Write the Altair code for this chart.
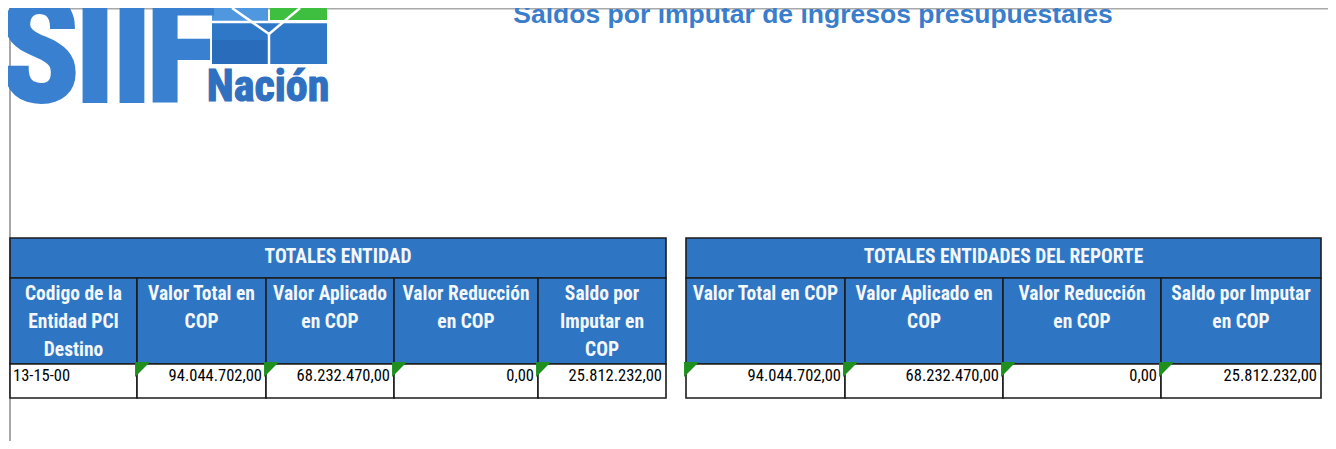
import altair as alt
import pandas as pd

# ---------------- data ----------------
TITLE = "Saldos por imputar de ingresos presupuestales"
T1_TITLE = "TOTALES ENTIDAD"
T1_HEADERS = ["Codigo de la|Entidad PCI|Destino", "Valor Total en|COP", "Valor Aplicado|en COP",
              "Valor Reducción|en COP", "Saldo por|Imputar en|COP"]
T1_CODE = "13-15-00"
T1_VALUES = [94044702.00, 68232470.00, 0.00, 25812232.00]
T2_TITLE = "TOTALES ENTIDADES DEL REPORTE"
T2_HEADERS = ["Valor Total en COP", "Valor Aplicado en|COP", "Valor Reducción|en COP", "Saldo por Imputar|en COP"]
T2_VALUES = [94044702.00, 68232470.00, 0.00, 25812232.00]
LOGO_WORD = "SIIF"
LOGO_SUB = "Nación"

# ---------------- layout (page pixel coordinates) ----------------
T1_EDGES = [10, 137, 266, 394, 538, 666]
T2_EDGES = [686, 845, 1003, 1161, 1321]
ROWS = [238, 278, 364, 398]
LOGO_LETTER_X = [40, 95, 132, 181]
BLUE = "#2E75C4"
LINE = "#1c1c1c"
NARROW = "Liberation Sans Narrow, Arial Narrow, Roboto Condensed, Liberation Sans, sans-serif"
ARIAL = "Liberation Sans, Arial, sans-serif"


def fmt(v):
    s = f"{v:,.2f}"
    return s.replace(",", "X").replace(".", ",").replace("X", ".")


xs = alt.Scale(domain=[8, 1328], nice=False, zero=False)
ys = alt.Scale(domain=[8, 441], nice=False, zero=False, reverse=True)
X = lambda f="x": alt.X(f"{f}:Q", scale=xs, axis=None)
Y = lambda f="y": alt.Y(f"{f}:Q", scale=ys, axis=None)

cells, htext, titles, nums, lefts, tris = [], [], [], [], [], []


def build(edges, title, headers, values, code=None):
    cells.append(dict(x=edges[0], x2=edges[-1], y=ROWS[0], y2=ROWS[1], fill=BLUE))
    titles.append(dict(x=(edges[0] + edges[-1]) / 2, y=(ROWS[0] + ROWS[1]) / 2 - 1, text=title))
    for i, h in enumerate(headers):
        a, b = edges[i], edges[i + 1]
        cells.append(dict(x=a, x2=b, y=ROWS[1], y2=ROWS[2], fill=BLUE))
        cells.append(dict(x=a, x2=b, y=ROWS[2], y2=ROWS[3], fill="#ffffff"))
        for j, line in enumerate(h.split("|")):
            htext.append(dict(x=(a + b) / 2, y=ROWS[1] + 16 + 28 * j, text=line))
    start = 0
    if code is not None:
        lefts.append(dict(x=edges[0] + 3, y=ROWS[2] + 12, text=code))
        start = 1
    for k, v in enumerate(values):
        a, b = edges[start + k], edges[start + k + 1]
        nums.append(dict(x=b - 4, y=ROWS[2] + 12, text=fmt(v)))
        tris.append(dict(x=a + 5.5, y=ROWS[2] + 5.5))


build(T1_EDGES, T1_TITLE, T1_HEADERS, T1_VALUES, T1_CODE)
build(T2_EDGES, T2_TITLE, T2_HEADERS, T2_VALUES)

rect = alt.Chart(pd.DataFrame(cells)).mark_rect(stroke=LINE, strokeWidth=1.6).encode(
    x=X(), x2="x2:Q", y=Y(), y2="y2:Q", fill=alt.Fill("fill:N", scale=None))

title_t = alt.Chart(pd.DataFrame(titles)).mark_text(
    font=NARROW, fontSize=19.5, fontWeight="bold", color="#f4f7fb", baseline="middle").encode(
    x=X(), y=Y(), text="text:N")
head_t = alt.Chart(pd.DataFrame(htext)).mark_text(
    font=NARROW, fontSize=19.5, fontWeight="bold", color="#f4f7fb", baseline="middle").encode(
    x=X(), y=Y(), text="text:N")
num_t = alt.Chart(pd.DataFrame(nums)).mark_text(
    font=NARROW, fontSize=16.5, color="black", baseline="middle", align="right").encode(
    x=X(), y=Y(), text="text:N")
left_t = alt.Chart(pd.DataFrame(lefts)).mark_text(
    font=NARROW, fontSize=16.5, color="black", baseline="middle", align="left").encode(
    x=X(), y=Y(), text="text:N")
tri = alt.Chart(pd.DataFrame(tris)).mark_point(
    shape="M-1,-1L1,-1L-1,1Z", size=220, filled=True, color="#1f8f1f", opacity=1, strokeWidth=0).encode(
    x=X(), y=Y())

# page frame lines
frame = alt.Chart(pd.DataFrame([
    dict(x=10, x2=1336, y=8.5, y2=8.5),
    dict(x=10, x2=10, y=8, y2=449),
])).mark_rule(color="#a8a8a8", strokeWidth=2).encode(x=X(), x2="x2:Q", y=Y(), y2="y2:Q")

# main title
main_t = alt.Chart(pd.DataFrame([dict(x=813, y=23, text=TITLE)])).mark_text(
    font=ARIAL, fontSize=26.5, fontWeight="bold", color="#3A7DCB", baseline="alphabetic").encode(
    x=X(), y=Y(), text="text:N")

# logo
logo_rects = alt.Chart(pd.DataFrame([
    dict(x=212, x2=268, y=8, y2=21, fill="#4f97df"),
    dict(x=270, x2=327, y=8, y2=20, fill="#3fbf3f"),
    dict(x=212, x2=327, y=23, y2=64, fill="#2f78c8"),
    dict(x=212, x2=268, y=40, y2=64, fill="#2a6cbc"),
])).mark_rect().encode(x=X(), x2="x2:Q", y=Y(), y2="y2:Q", fill=alt.Fill("fill:N", scale=None))
logo_lines = alt.Chart(pd.DataFrame([
    dict(x=212, x2=327, y=22, y2=22),
    dict(x=232, x2=269, y=8, y2=34),
    dict(x=269, x2=300, y=34, y2=8),
    dict(x=269, x2=269, y=34, y2=64),
])).mark_rule(color="white", strokeWidth=2.5).encode(x=X(), x2="x2:Q", y=Y(), y2="y2:Q")
logo_word = alt.Chart(pd.DataFrame([dict(x=px, y=101, text=ch) for px, ch in zip(LOGO_LETTER_X, LOGO_WORD)])).mark_text(
    font=NARROW, fontSize=146, fontWeight="bold", color="#3a80d0", stroke="#3a80d0", strokeWidth=4,
    baseline="alphabetic", align="center").encode(
    x=X(), y=Y(), text="text:N")
logo_sub = alt.Chart(pd.DataFrame([dict(x=268, y=101, text=LOGO_SUB)])).mark_text(
    font=NARROW, fontSize=44, fontWeight="bold", color="#2f70c0", stroke="#2f70c0", strokeWidth=1.2,
    baseline="alphabetic", align="center").encode(
    x=X(), y=Y(), text="text:N")

chart = alt.layer(
    frame, logo_rects, logo_lines, logo_word, logo_sub, main_t,
    rect, title_t, head_t, num_t, left_t, tri,
).properties(width=1320, height=433, autosize=alt.AutoSizeParams(type="none"), padding=0
).configure_view(stroke=None)

chart.save("out.html", embed_options={"renderer": "svg", "actions": False})
